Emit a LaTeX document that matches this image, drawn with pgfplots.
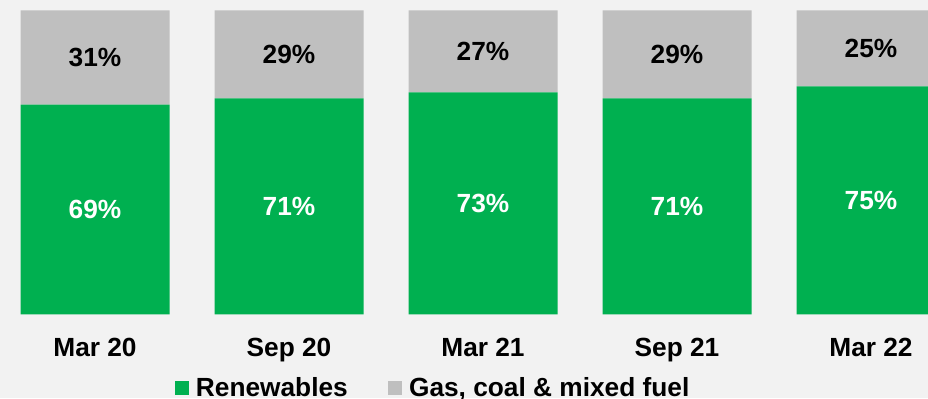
\documentclass[border=0pt]{standalone}
\usepackage{pgfplots}
\pgfplotsset{compat=1.18}
\usepackage{fontspec}
\setmainfont{Liberation Sans}
\definecolor{renew}{HTML}{00B050}
\definecolor{fossil}{HTML}{BFBFBF}
\definecolor{bgc}{HTML}{F2F2F2}
\newcommand{\lblfont}{\fontsize{19.7}{22}\selectfont\bfseries}
\pgfplotsset{
  frame/.style={at={(0,0)}, anchor=south west,
    scale only axis, width=696pt, height=228pt,
    xmin=-0.4897, xmax=4.2938, ymin=0, ymax=100, clip=false},
  sqlegend/.style={legend image code/.code={\fill[##1] (0pt,-5.25pt) rectangle (10.5pt,5.25pt);}},
  pctlabels/.style={draw=none, mark=none,
    nodes near coords, point meta=explicit symbolic,
    every node near coord/.append style={anchor=center, font=\lblfont, text=#1}},
}
\begin{document}
\begin{tikzpicture}
\useasboundingbox (0,-63pt) rectangle (696pt,235.75pt);
\clip (0,-63pt) rectangle (696pt,235.75pt);
\fill[bgc] (0,-63pt) rectangle (696pt,235.75pt);
\begin{axis}[
  frame,
  ybar stacked, bar width=111.75pt,
  axis line style={draw=none},
  ytick=\empty,
  xtick={0,...,4},
  xticklabels={Mar 20,Sep 20,Mar 21,Sep 21,Mar 22},
  major tick length=0pt,
  xticklabel style={anchor=base, yshift=-31.5pt, font=\lblfont},
  legend columns=2,
  legend style={draw=none, fill=none, at={(0.18858,-0.2434)}, anchor=west,
    inner sep=0pt, font=\lblfont,
    /tikz/every odd column/.append style={column sep=3pt},
    /tikz/every even column/.append style={column sep=28.5pt}},
]
\addplot[fill=renew, draw=none, sqlegend] coordinates {(0,69) (1,71) (2,73) (3,71) (4,75)};
\addlegendentry{Renewables}
\addplot[fill=fossil, draw=none, sqlegend] coordinates {(0,31) (1,29) (2,27) (3,29) (4,25)};
\addlegendentry{Gas, coal \& mixed fuel}
\end{axis}
% value labels, centred in each segment
\begin{axis}[frame, hide axis]
\addplot[pctlabels=white] coordinates {(0,34.5)[69\%] (1,35.5)[71\%] (2,36.5)[73\%] (3,35.5)[71\%] (4,37.5)[75\%]};
\addplot[pctlabels=black] coordinates {(0,84.5)[31\%] (1,85.5)[29\%] (2,86.5)[27\%] (3,85.5)[29\%] (4,87.5)[25\%]};
\end{axis}
\end{tikzpicture}
\end{document}
